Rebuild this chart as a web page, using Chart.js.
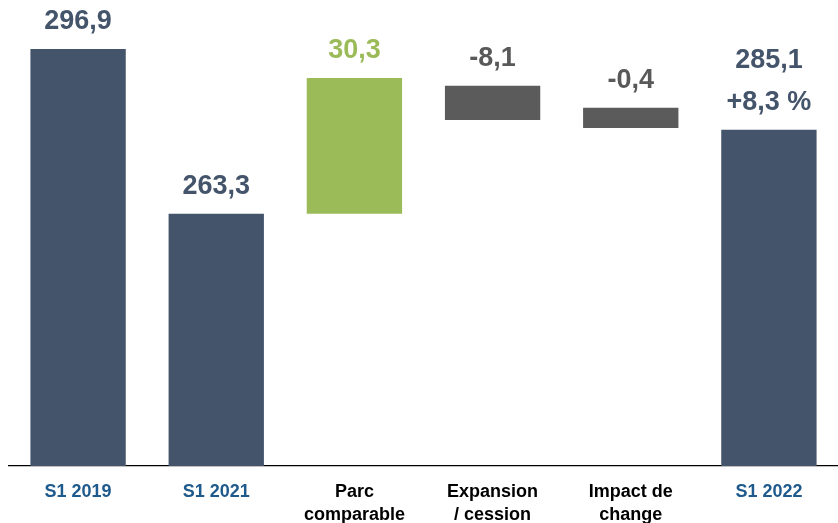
<!DOCTYPE html>
<html>
<head>
<meta charset="utf-8">
<script src="https://cdn.jsdelivr.net/npm/chart.js@4.4.0/dist/chart.umd.min.js"></script>
<style>
  html, body { margin: 0; padding: 0; background: #fff; }
  #wrap { width: 838px; height: 523px; position: relative; }
</style>
</head>
<body>
<div id="wrap"><canvas id="c"></canvas></div>
<script>
// Categories (x-axis tick labels)
const categories = [["S1 2019"], ["S1 2021"], ["Parc", "comparable"], ["Expansion", "/ cession"], ["Impact de", "change"], ["S1 2022"]];
// Bar extents as drawn in the picture (bottom, top)
const barBottoms = [211.8, 211.8, 263.3, 282.4, 280.8, 211.8];
const barTops    = [296.9, 263.3, 291.0, 289.4, 284.9, 280.4];
// Value labels shown above bars
const valueLabels = [["296,9"], ["263,3"], ["30,3"], ["-8,1"], ["-0,4"], ["285,1", "+8,3 %"]];
// Bar type: total, increase, decrease
const barTypes = ["total", "total", "up", "down", "down", "total"];
const axisMin = 211.8, axisMax = 306.9;

const colors = { total: "#44546A", up: "#9BBB59", down: "#5B5B5B" };
const labelColors = { total: "#44546A", up: "#9BBB59", down: "#595959" };
const tickColors = ["#1F5A8C", "#1F5A8C", "#000000", "#000000", "#000000", "#1F5A8C"];

const valueLabelPlugin = {
  id: "valueLabels",
  afterDatasetsDraw(chart) {
    const ctx = chart.ctx;
    const meta = chart.getDatasetMeta(0);
    ctx.save();
    ctx.font = "bold 27px 'Liberation Sans', Arial, sans-serif";
    ctx.textAlign = "center";
    ctx.textBaseline = "alphabetic";
    meta.data.forEach((bar, i) => {
      const lines = valueLabels[i];
      ctx.fillStyle = labelColors[barTypes[i]];
      const topY = Math.min(bar.y, bar.base);
      for (let k = 0; k < lines.length; k++) {
        const y = topY - 20 - (lines.length - 1 - k) * 42;
        ctx.fillText(lines[k], bar.x, y);
      }
    });
    ctx.restore();
  }
};

new Chart(document.getElementById("c"), {
  type: "bar",
  data: {
    labels: categories,
    datasets: [{
      data: barBottoms.map((b, i) => [b, barTops[i]]),
      backgroundColor: barTypes.map(t => colors[t]),
      borderWidth: 0,
      barPercentage: 0.69,
      categoryPercentage: 1.0
    }]
  },
  options: {
    responsive: true,
    maintainAspectRatio: false,
    animation: false,
    layout: { padding: { left: 9, right: 0, top: 0, bottom: 0 } },
    plugins: { legend: { display: false }, tooltip: { enabled: false } },
    scales: {
      x: {
        grid: { display: false },
        border: { display: true, color: "#000000", width: 1.3 },
        ticks: {
          color: (ctx) => tickColors[ctx.index],
          font: { family: "'Liberation Sans', Arial, sans-serif", weight: "bold", size: 18, lineHeight: 1.25 },
          padding: 7,
          maxRotation: 0,
          autoSkip: false
        },
        afterFit(scale) { scale.height = 57; }
      },
      y: {
        display: false,
        min: axisMin,
        max: axisMax
      }
    }
  },
  plugins: [valueLabelPlugin]
});
</script>
</body>
</html>
